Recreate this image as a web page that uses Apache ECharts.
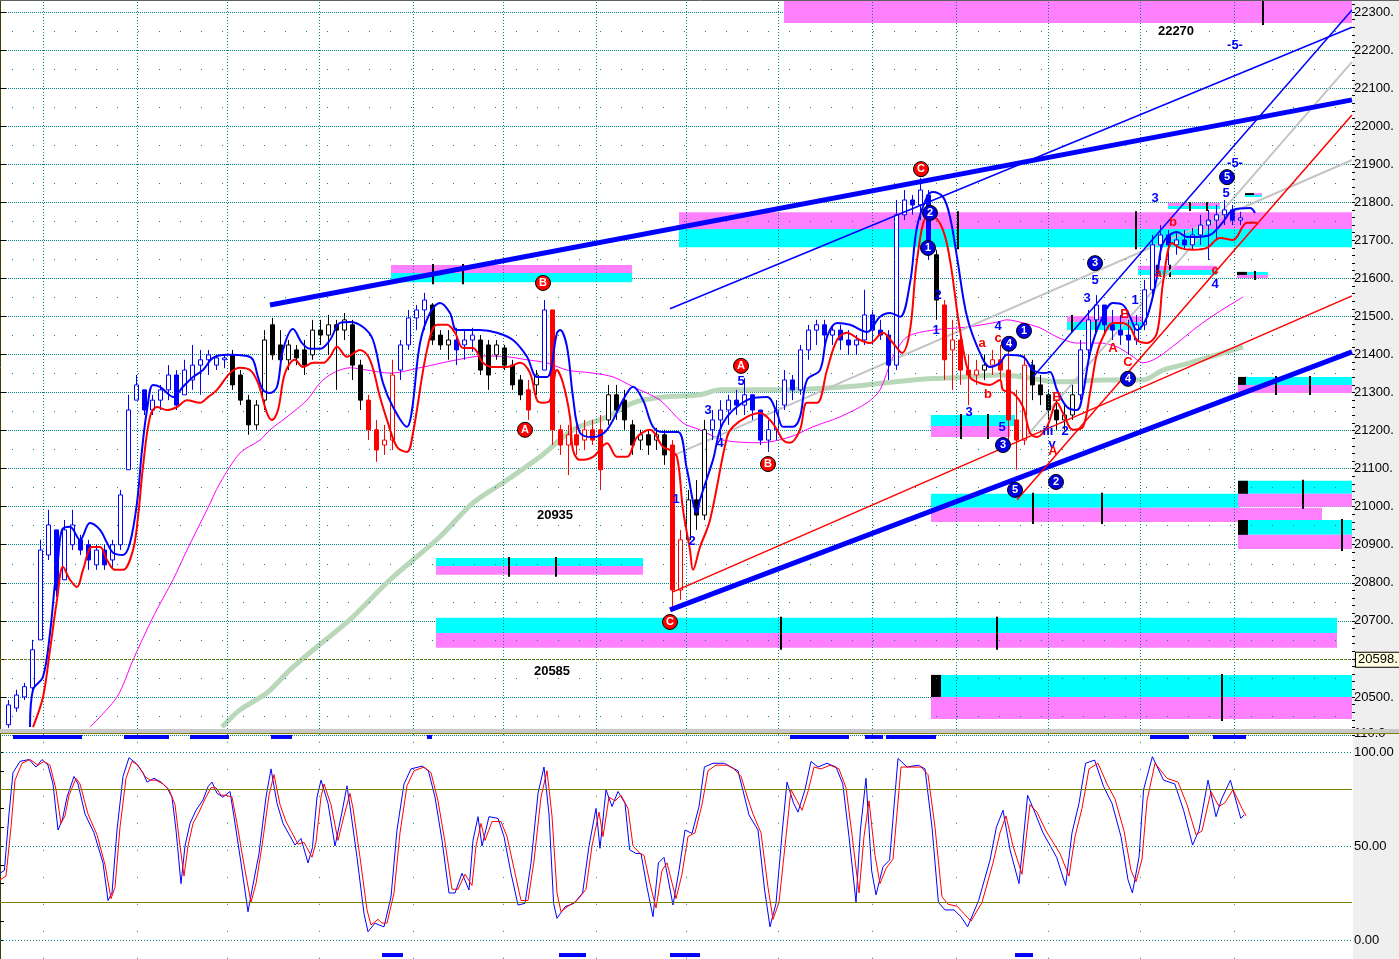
<!DOCTYPE html>
<html><head><meta charset="utf-8">
<script src="https://cdn.jsdelivr.net/npm/echarts@6.0.0/dist/echarts.min.js"></script>
<style>html,body{margin:0;padding:0;background:#fff;overflow:hidden}#c{width:1399px;height:959px}</style>
</head><body><div id="c"></div><script>
// ---------- DATA ----------
// price bars: [bar, open, close, low, high]
const ohlc = [
[2,20427,20479,20419,20492],[4,20471,20505,20461,20519],[6,20500,20527,20492,20537],[8,20524,20624,20519,20650],
[10,20650,20886,20650,20913],[12,20873,20952,20860,20992],[14,20939,20781,20763,20939],[16,20808,20939,20808,20965],
[18,20900,20952,20886,20992],[20,20913,20886,20873,20926],[22,20900,20860,20834,20913],[24,20847,20886,20834,20900],
[26,20886,20847,20834,20900],[28,20860,20900,20839,20913],[30,20900,21031,20886,21044],[32,21097,21254,21097,21294],
[34,21280,21320,21280,21346],[36,21307,21254,21241,21307],[38,21254,21280,21241,21294],[40,21280,21307,21254,21320],
[42,21307,21346,21280,21372],[44,21346,21267,21254,21359],[46,21294,21359,21294,21386],[48,21333,21372,21307,21425],
[50,21372,21386,21294,21412],[52,21386,21399,21346,21412],[54,21372,21391,21359,21399],[56,21386,21391,21364,21399],
[58,21399,21320,21307,21412],[60,21346,21280,21267,21359],[62,21280,21215,21189,21294],[64,21215,21267,21202,21280],
[66,21280,21438,21254,21464],[68,21478,21399,21386,21496],[70,21425,21386,21359,21464],[72,21386,21425,21359,21438],
[74,21412,21391,21372,21425],[76,21412,21372,21346,21438],[78,21399,21464,21386,21491],[80,21464,21451,21425,21491],
[82,21451,21478,21399,21504],[84,21478,21464,21307,21491],[86,21464,21491,21438,21509],[88,21478,21372,21333,21491],
[90,21372,21280,21254,21386],[92,21280,21202,21175,21294],[94,21202,21149,21118,21228],[96,21162,21175,21136,21215],
[98,21175,21346,21149,21386],[100,21359,21425,21333,21438],[102,21425,21496,21412,21517],[104,21496,21517,21464,21530],
[106,21517,21543,21464,21562],[108,21530,21438,21425,21535],[110,21451,21425,21412,21464],[112,21425,21438,21386,21464],
[114,21438,21412,21372,21470],[116,21425,21438,21386,21464],[118,21438,21451,21407,21470],[120,21438,21359,21346,21451],
[122,21425,21346,21307,21438],[124,21399,21425,21386,21438],[126,21417,21372,21359,21425],[128,21372,21320,21307,21386],
[130,21333,21294,21280,21346],[132,21307,21254,21228,21333],[134,21320,21346,21294,21359],[136,21359,21517,21359,21543],
[138,21517,21202,21162,21517],[140,21202,21162,21136,21215],[142,21162,21189,21083,21215],[144,21189,21162,21136,21215],
[146,21175,21202,21149,21228],[148,21202,21175,21162,21228],[150,21202,21097,21044,21241],[152,21228,21294,21215,21320],
[154,21294,21254,21228,21320],[156,21280,21228,21202,21307],[158,21215,21162,21136,21228],[160,21175,21189,21149,21202],
[162,21189,21162,21136,21202],[164,21175,21189,21149,21207],[166,21189,21136,21110,21202],[168,21162,20781,20729,21175],
[170,20781,20913,20755,20939],[172,20913,21018,20900,21044],[174,21018,20978,20939,21070],[176,20978,21202,20965,21228],
[178,21202,21228,21175,21254],[180,21228,21254,21175,21280],[182,21254,21280,21215,21294],[184,21280,21267,21241,21307],
[186,21267,21294,21241,21338],[188,21294,21254,21228,21294],[190,21254,21175,21162,21254],[192,21175,21202,21144,21228],
[194,21202,21254,21175,21280],[196,21267,21333,21254,21359],[198,21333,21307,21280,21346],[200,21307,21412,21294,21425],
[202,21412,21464,21386,21478],[204,21464,21478,21425,21491],[206,21478,21451,21425,21491],[208,21451,21464,21425,21478],
[210,21464,21438,21412,21478],[212,21438,21425,21399,21464],[214,21425,21438,21399,21451],[216,21438,21504,21425,21570],
[218,21504,21464,21425,21517],[220,21464,21451,21438,21491],[222,21451,21372,21333,21464],[224,21372,21767,21359,21806],
[226,21767,21806,21753,21832],[228,21806,21793,21767,21819],[230,21793,21832,21753,21864],[232,21819,21675,21648,21832],
[234,21662,21543,21491,21675],[236,21530,21386,21333,21543],[238,21412,21438,21307,21491],[240,21438,21359,21320,21464],
[242,21359,21346,21267,21399],[244,21346,21359,21320,21386],[246,21359,21372,21333,21399],[248,21372,21386,21346,21412],
[250,21386,21359,21333,21425],[252,21359,21228,21175,21412],[254,21228,21175,21097,21307],[256,21175,21372,21162,21399],
[258,21372,21320,21280,21386],[260,21320,21294,21267,21346],[262,21294,21254,21228,21307],[264,21254,21228,21202,21280],
[266,21228,21241,21202,21267],[268,21241,21294,21228,21320],[270,21294,21412,21280,21438],[272,21412,21491,21386,21517],
[274,21491,21530,21464,21556],[276,21530,21478,21451,21530],[278,21478,21464,21438,21517],[280,21464,21451,21425,21504],
[282,21451,21438,21399,21491],[284,21438,21478,21425,21504],[286,21478,21570,21464,21596],[288,21570,21688,21556,21714],
[290,21688,21714,21648,21740],[292,21714,21688,21635,21727],[294,21688,21701,21662,21722],[296,21701,21688,21675,21727],
[298,21688,21714,21675,21732],[300,21714,21740,21688,21767],[302,21740,21753,21648,21780],[304,21753,21767,21701,21793],
[306,21767,21780,21740,21806],[308,21780,21753,21740,21793],[310,21753,21759,21740,21775]
];
// bar state per bar: b = up-trend (blue), r = down-trend (red), k = neutral (black)
const toneRuns = ['bbbbbbbbbbbbbbbbbbbbbbbbbbbb','kkkkkkkkkkkkkkkkk','rrrr','bbbb','kkk','bbb','kkkkkk','r','k','b',
  'rrrrrrr','kkkkkkkk','rr','kkk','bbbbbbbbbbbbbbbbbbbbbbbbbbbb','k','rrrrr','k','rrrrr','kkkkkk','bbbbbbbbbbbbbbbbbbbbb'];
const tones = toneRuns.join('');

const upperBand = [[7.5,20421],[8.25,20519],[10.75,20553],[12.5,20668],[13.75,20800],[14.5,20860],[15.5,20939],[17.5,20947],[20,20913],[22.5,20957],[25,20939],[26.75,20905],[28.25,20879],[30.75,20873],[32.5,20905],[34.25,21010],[35.5,21149],[36.75,21254],[38.25,21320],[40,21315],[41.75,21299],[43.25,21288],[45.75,21315],[48.25,21341],[50.75,21359],[53.25,21391],[56.75,21399],[61.75,21396],[63.25,21386],[64.5,21341],[65.75,21307],[67.5,21299],[69.25,21315],[70.75,21412],[73.25,21467],[75.5,21430],[77.5,21415],[80,21415],[82.5,21438],[85,21483],[87.5,21485],[90.75,21472],[93.25,21438],[95.75,21325],[98.25,21262],[101.75,21210],[103,21254],[105,21430],[107.5,21509],[110,21535],[112.5,21509],[114.25,21464],[120,21464],[124.25,21457],[128.25,21438],[131.75,21394],[134.25,21341],[136.75,21341],[139.25,21457],[140,21464],[141.75,21420],[143.25,21288],[145,21194],[148.25,21183],[151.75,21202],[155.75,21280],[158.25,21315],[160.75,21280],[163.25,21210],[165.75,21196],[169.5,21196],[171.75,21097],[174.25,20984],[175,21018],[178.25,21123],[180.75,21220],[186.75,21280],[191.75,21288],[194.25,21246],[195.75,21210],[198.25,21210],[200,21236],[201.75,21333],[205,21359],[206.75,21446],[209.25,21483],[212.5,21478],[216.75,21459],[220,21499],[222.5,21509],[225,21499],[227.5,21588],[229.25,21735],[231.75,21814],[233.25,21827],[235.75,21814],[237.5,21761],[239.25,21656],[241.75,21499],[245,21404],[247.5,21367],[250,21378],[251.75,21399],[255.75,21394],[258.25,21359],[261.25,21351],[262.5,21354],[264.25,21307],[266.75,21262],[269.25,21254],[270.75,21299],[272.5,21404],[275,21483],[278.25,21535],[280.75,21530],[282.5,21499],[284.25,21464],[286.75,21499],[289.25,21604],[290.75,21693],[294.25,21722],[296.75,21709],[299.25,21709],[302.5,21714],[305.75,21748],[308.25,21780],[312.5,21785],[313.75,21772]];
const lowerBand = [[8.25,20421],[10.75,20500],[12.5,20624],[14.25,20755],[15.75,20842],[17.5,20808],[19.25,20789],[20.75,20834],[23,20894],[25,20894],[26.75,20860],[28.75,20834],[30.75,20834],[33.25,20886],[34.5,20973],[35.75,21105],[37.5,21236],[39.25,21262],[41.75,21254],[44.25,21262],[46.75,21280],[50,21273],[52,21288],[54.25,21307],[57.5,21351],[60,21365],[62.5,21359],[64.5,21325],[66.75,21246],[68,21228],[69.5,21254],[71.25,21351],[73.75,21386],[75.75,21367],[78.25,21378],[80.75,21378],[82.5,21394],[84.25,21420],[86.75,21394],[90,21412],[92.5,21386],[95,21288],[96.75,21228],[99.25,21157],[101.75,21144],[103.25,21194],[106.75,21412],[109.25,21478],[111.75,21478],[113.75,21457],[115.75,21417],[118.25,21417],[120.75,21378],[123.25,21367],[126.75,21367],[130,21378],[132.5,21351],[134.25,21280],[135.75,21273],[137.5,21280],[139.25,21359],[140.75,21325],[142.5,21236],[143.25,21149],[145,21123],[148.25,21131],[151.75,21167],[154.25,21131],[156.75,21131],[159.25,21183],[162.5,21202],[165.75,21157],[167.5,21149],[169.25,21131],[170.75,20992],[172.5,20886],[173.25,20834],[175,20894],[177.5,20965],[181.75,21183],[183.25,21210],[186.75,21236],[190,21246],[192.5,21228],[194.25,21202],[195.75,21175],[197.5,21168],[200,21202],[201.75,21273],[204.25,21273],[206.75,21359],[209.25,21438],[211.75,21457],[215,21438],[217.5,21430],[220.75,21457],[223.25,21430],[225.5,21404],[227.5,21464],[229.25,21648],[231.75,21761],[233.25,21761],[235.75,21727],[237.5,21648],[240,21464],[242.5,21341],[245,21325],[247.5,21320],[250,21333],[250.75,21307],[253.25,21299],[255.75,21262],[257.5,21194],[259.25,21183],[261.75,21210],[264.25,21273],[265.75,21246],[268.25,21202],[270.75,21210],[272.5,21299],[274.25,21404],[275.75,21446],[278.25,21483],[280.5,21483],[282.5,21472],[284.25,21438],[286.75,21430],[289.25,21457],[290.75,21588],[293,21693],[295,21680],[298.25,21675],[301.75,21680],[305,21706],[308.25,21701],[311.75,21746],[314.25,21746]];
const maShort = [[22.5,20421],[29.25,20500],[33.25,20597],[38.25,20710],[43.25,20808],[46.75,20886],[51.75,20992],[55,21062],[60,21141],[65,21175],[67.5,21202],[71.75,21236],[76.75,21280],[80,21325],[83.25,21351],[87.5,21365],[91.75,21359],[97.5,21351],[105.75,21367],[114.25,21386],[120.75,21396],[126.75,21394],[131.75,21386],[136.75,21378],[141.75,21359],[148.25,21351],[153.25,21341],[158.25,21315],[165,21280],[170.75,21220],[175,21202],[180.75,21175],[190,21168],[197.5,21183],[203.25,21210],[210,21236],[216.75,21273],[220,21307],[223.25,21394],[226.75,21446],[233.25,21464],[241.75,21472],[249.25,21485],[251.75,21491],[255.75,21483],[260,21470],[264.25,21446],[269.25,21430],[275,21430],[279.25,21420],[283.25,21394],[285.75,21378],[289.25,21391],[294.25,21430],[299.25,21472],[304.25,21509],[308.25,21535],[310.75,21551]];
const maLong = [[55.5,20421],[60,20466],[66.75,20511],[72.5,20571],[79.25,20632],[87.5,20703],[97.5,20808],[110,20921],[118.25,21010],[126.75,21070],[135,21131],[143.25,21202],[151.75,21236],[158.25,21273],[165.75,21288],[175,21294],[180,21307],[195,21307],[211.75,21315],[228.25,21333],[236.75,21338],[250,21346],[255.75,21341],[264.25,21328],[276.75,21333],[285.75,21333],[290.75,21359],[297.5,21378],[304.25,21399],[310.75,21420]];
// trend lines: [x1, p1, x2, p2, kind]
const trendLines = [
  [67.5,21530,338,22069,'thick'],[167.5,20729,338,21407,'thick'],
  [167.5,21520,338,22260,'thin'],[258.25,21341,338,22305,'thin'],
  [167.5,21131,338,21911,'gray'],[255.75,21175,338,22169,'gray'],
  [168.25,20776,338,21554,'red'],[254.25,21018,338,22029,'red']
];
// zones: [x0, x1 upper, x1 lower, top, middle, bottom, upper colour, black box end, tick bars]
const zones = [
  [196,338,338,22345,22271,22271,'m',null,[315.75]],
  [97.75,158,158,21635,21614,21590,'m',null,[108.25,115.75]],
  [169.75,338,338,21774,21730,21682,'m',null,[239.5,284]],
  [109,160.75,160.75,20865,20844,20821,'c',null,[127.25,139]],
  [109,334.25,334.25,20708,20668,20629,'c',null,[195.25,249.25]],
  [232.75,338,338,20558,20500,20442,'c',235.25,[305.5]],
  [232.75,253.75,252.5,21241,21212,21183,'c',null,[240.25,247]],
  [232.75,310,330.5,21034,20997,20960,'c',null,[258.25,275.5]],
  [309.5,338,338,21068,21034,21000,'c',312,[325.75]],
  [309.5,338,338,20965,20926,20889,'c',312,[335.5]],
  [309.5,338,338,21341,21320,21299,'c',311.5,[319,327.5]],
  [266.75,285.5,285.5,21501,21485,21464,'m',null,[268,274]],
  [284.5,304.25,304.25,21633,21622,21609,'m',null,[289.25,292.5]],
  [292,305,305,21798,21790,21782,'m',null,[297.5,301.75]],
  [309.25,317,317,21617,21609,21601,'c',311.75,[313.75]],
  [311.25,315.5,315.5,21824,21819,21814,'m',313.5,[]]
];
// wave labels
const circleLabels = [
  [230.25,21887,'C','r'],[135.75,21588,'B','r'],[131.25,21202,'A','r'],[185.25,21370,'A','r'],[192,21112,'B','r'],[167.5,20697,'C','r'],
  [232.5,21772,'2','b'],[232,21680,'1','b'],[256,21462,'1','b'],[252.25,21428,'4','b'],[250.75,21162,'3','b'],[253.75,21044,'5','b'],
  [264,21065,'2','b'],[273.75,21640,'3','b'],[282,21336,'4','b'],[306.75,21866,'5','b']
];
const textLabels = [
  [169,21018,'1','b'],[173,20910,'2','b'],[177,21254,'3','b'],[180,21165,'4','b'],[185.25,21328,'5','b'],
  [234.5,21554,'2','b'],[234,21464,'1','b'],[242.25,21249,'3','b'],[249.5,21475,'4','b'],[250.5,21207,'5','b'],
  [258,21367,'i','b'],[262,21197,'iii','b'],[263,21163,'v','b'],[266.25,21197,'2','b'],[271.75,21548,'3','b'],
  [273.75,21595,'5','b'],[283.75,21543,'1','b'],[288.75,21811,'3','b'],[303.75,21583,'4','b'],[306.5,21824,'5','b'],
  [308.75,22213,'-5-','b'],[308.75,21903,'-5-','b'],
  [245.5,21430,'a','r'],[247,21296,'b','r'],[249.5,21443,'c','r'],[263.25,21144,'A','r'],[264.25,21288,'B','r'],
  [281.25,21504,'B','r'],[278.25,21417,'A','r'],[282,21380,'C','r'],[293.25,21748,'b','r'],[289.5,21614,'a','r'],[303.75,21622,'c','r']
];
const priceNotes = [[294,22250,'22270'],[138.75,20978,'20935'],[138,20568,'20585']];
const lastPrice = 20598;
const sessionBreaks = [10.75,34.25,56.75,79.75,103.25,125.75,149,171.5,194.5,218,239,262,285,308.5];
// stochastic oscillator
const oscFast = [[0,35.5],[1.1,37],[2.25,67],[3.25,89],[5,95],[7.25,96],[9,92],[10.5,96],[12,93],[13.25,83],[14.5,58.5],[15.6,64],[16.75,76],[18.5,87],[19.5,83],[21.25,67],[23.5,57],[25.75,41],[27,21],[28,25],[29.25,58.5],[30.75,87],[32.25,97],[34,94],[35.75,89],[36.75,84],[38.5,86],[40.25,84],[41.75,81],[43,76],[44,58.5],[45.25,30],[46.25,50],[47.5,62],[49,69],[50.75,74.5],[52,81.5],[53,84],[54.25,78],[55.75,76],[57.5,79],[58.5,65.6],[60.25,41],[62,15],[63,26.6],[64.75,46],[66.5,76],[67.75,91],[69.25,72.7],[70.75,62],[73.75,50.5],[75.25,54],[77,41],[78.1,49],[79.25,76],[80.25,85],[82,72.7],[83.75,50],[85.4,67],[86.75,82],[87.5,71],[89.25,44],[91,14],[92,4.4],[93.75,9],[94.75,8],[96,7],[97.75,23],[99.25,58.5],[101,83],[102.75,91],[105.5,92.5],[107.1,90],[108.75,76],[110.5,53],[112.25,25],[113.75,25],[115.5,35.5],[117.25,26.6],[118.25,53],[119.5,65.6],[120.5,50],[122.25,65.6],[124.5,64.7],[126,55],[127.75,35.5],[129.5,18.6],[131.25,19.5],[132.75,41],[134.5,78],[136,92],[137.25,67],[138.4,19.5],[139.25,11.5],[141.25,17.7],[143.5,19.5],[145.65,25],[147.25,50],[149,70],[150,48.8],[151.5,80],[153,71],[154.5,79],[156.25,72.7],[157.4,48],[159,46],[160.25,46],[161.75,28],[163.25,12.4],[164.6,41],[166,44],[168.25,18.6],[169.75,37],[171.25,58.5],[173,56.7],[174.75,71],[176.1,92],[178.25,94],[181.1,94],[182.75,92],[184.5,90],[186.15,76],[187.25,66.5],[189.5,58.5],[191.15,26.6],[192.5,7],[194,19.5],[195.6,58.5],[196.75,84],[198.4,72.7],[199.5,68],[201.25,80],[202.75,95],[204.5,92],[206.75,94],[209,92],[210.7,83],[212.25,55],[214,20],[215.1,58.5],[216.5,86],[217.9,37],[219,24],[220.75,39],[222.4,42.5],[224.5,96.6],[226.75,92],[229.6,93],[231.25,91],[233,60],[234.6,20],[236.25,16],[238.5,16],[240.25,12.4],[241.9,7],[244.65,21],[247.5,42.5],[249.1,60],[250.75,69],[252.5,48],[254.75,30],[256.9,77],[258.5,69],[260.75,57],[264.15,44],[266.4,29],[268,57],[269.75,72.7],[271.4,94],[273.65,95.7],[275.9,81.6],[278,72.7],[280.25,55],[282,32],[283.1,25],[284.75,44],[285.9,80],[288.1,97.5],[290.9,85],[293.7,83],[295.9,69],[298.15,50.5],[299.75,58.5],[302,85],[304,65.6],[305.4,75],[307.6,85],[310.2,64.7],[311,66.5]];
const oscSlow = [[0,32],[1.5,34],[2.75,60],[3.75,85],[5.5,94],[7.5,96],[9.5,93],[11,95],[12.5,93],[14,80],[15.25,62],[16.25,66],[17.25,77],[19,86],[20,83],[22,67],[24.25,56],[26.25,40],[27.75,22],[28.75,28],[30,60],[31.5,86],[33,95],[34.5,93],[36.25,87],[37.5,85],[39,85],[40.75,83],[42.25,80],[43.75,72],[45,50],[46,34],[47,50],[48.25,62],[49.75,68],[51.25,75],[52.75,81],[54,81],[55.25,77],[56.5,77],[58,76],[59.25,62],[61,40],[62.75,20],[64,30],[65.5,50],[67.25,77],[68.5,88],[70,72],[71.5,63],[74.5,51],[76,52],[78,44],[79,52],[80.25,76],[81,83],[82.75,72],[84.5,53],[86,66],[87.5,78],[88.25,70],[90,44],[91.75,16],[92.75,8],[94.5,11],[95.5,9],[96.75,9],[98.5,25],[100,57],[101.75,82],[103.5,90],[106,92],[107.75,89],[109.5,74],[111.25,52],[113,27],[114.5,27],[116.25,35],[118,29],[119,50],[120.25,62],[121.25,53],[123,63],[125.25,63],[126.75,55],[128.5,38],[130.25,21],[132,21],[133.5,42],[135.25,76],[136.75,90],[138,66],[139.25,25],[140.25,15],[142,18],[144.25,21],[146.5,27],[148,50],[149.75,68],[150.75,55],[152.25,76],[153.75,74],[155.25,77],[157,70],[158.25,50],[160,46],[161,45],[162.5,30],[164,17],[165.5,37],[166.75,41],[169,22],[170.5,35],[172,55],[173.75,57],[175.5,72],[177,90],[179,93],[181.75,93],[183.5,91],[185.25,87],[187,75],[188.25,67],[190.25,57],[192,28],[193.25,11],[194.75,20],[196.5,55],[197.75,80],[199.25,74],[200.5,69],[202,79],[203.5,92],[205.25,91],[207.5,93],[209.75,91],[211.5,81],[213,56],[214.75,25],[216,55],[217.25,74],[218.75,45],[220,30],[221.5,38],[223.25,43],[225.25,92],[227.5,92],[230.25,92],[232,88],[233.75,60],[235.5,23],[237,19],[239.25,18],[241,14],[242.75,10],[245.5,20],[248.25,41],[250,57],[251.5,66],[253.25,50],[255.5,35],[257.5,72],[259.25,68],[261.5,58],[265,46],[267.25,34],[268.75,55],[270.5,70],[272.25,91],[274.5,94],[276.75,83],[278.75,75],[281,58],[282.75,37],[284,31],[285.5,43],[286.75,74],[288.75,94],[291.75,86],[294.5,84],[296.75,72],[299,56],[300.5,58],[302.75,79],[304.75,71],[306.25,73],[308.25,80],[310.5,70],[311.5,66]];
const oscTopMarks = [[3.25,20.5],[31,42.25],[47.5,57.25],[67.75,73],[106.75,108],[197.5,212.25],[216.25,220.75],[221.5,234],[287.5,297.25],[303.25,311.5]];
const oscBottomMarks = [[95.5,100.75],[139.75,146.5],[167.5,175],[253.75,258.25]];
const oscLevels = [20, 80];

// ---------- CHART ----------
const FONT = 'Liberation Sans, Arial, sans-serif';
const TEAL = '#008080', BLUE = '#0000ff', RED = '#ff0000';
const CLEAR = 'rgba(0,0,0,0)';
const chart = echarts.init(document.getElementById('c'), null, {renderer: 'canvas'});

function renderCandle(params, api) {
  const r = ohlc[params.dataIndex];
  const t = tones[params.dataIndex];
  const col = t === 'b' ? BLUE : (t === 'r' ? RED : '#000000');
  const x = Math.round(api.coord([r[0], r[1]])[0]) + 0.5;
  const yO = api.coord([r[0], r[1]])[1], yC = api.coord([r[0], r[2]])[1];
  const yL = api.coord([r[0], r[3]])[1], yH = api.coord([r[0], r[4]])[1];
  const up = r[2] >= r[1];
  const top = Math.min(yO, yC), h = Math.max(1, Math.abs(yO - yC));
  return {type: 'group', children: [
    {type: 'line', shape: {x1: x, y1: yH, x2: x, y2: yL}, style: {stroke: col, lineWidth: 1}},
    {type: 'rect', shape: {x: x - 2, y: top, width: 4, height: h}, style: {fill: up ? '#ffffff' : col, stroke: col, lineWidth: 1}}
  ]};
}
function renderZone(params, api) {
  const z = zones[params.dataIndex];
  const [x0, x1u, x1l, hi, mid, lo, upC, boxEnd, ticks] = z;
  const px = v => api.coord([v, mid])[0];
  const py = v => api.coord([x0, v])[1];
  const C = '#00ffff', M = '#ff80ff';
  const ch = [];
  ch.push({type: 'rect', shape: {x: px(x0), y: py(hi), width: px(x1u) - px(x0), height: py(mid) - py(hi)}, style: {fill: upC === 'c' ? C : M}});
  if (lo !== mid) ch.push({type: 'rect', shape: {x: px(x0), y: py(mid), width: px(x1l) - px(x0), height: py(lo) - py(mid)}, style: {fill: upC === 'c' ? M : C}});
  if (boxEnd !== null) ch.push({type: 'rect', shape: {x: px(x0), y: py(hi), width: px(boxEnd) - px(x0), height: py(mid) - py(hi)}, style: {fill: '#000'}});
  ticks.forEach(t => ch.push({type: 'rect', shape: {x: Math.round(px(t)) - 1, y: py(hi) - 1, width: 2, height: py(lo) - py(hi) + 3}, style: {fill: '#000'}}));
  return {type: 'group', children: ch};
}
function renderMark(params, api) {
  const a = api.coord([api.value(0), api.value(2)]);
  const b = api.coord([api.value(1), api.value(2)]);
  return {type: 'rect', shape: {x: a[0], y: a[1] - 2, width: b[0] - a[0], height: 4}, style: {fill: BLUE}};
}
function renderText(params, api) {
  const p = api.coord([api.value(0), api.value(1)]);
  const row = params.seriesName === 'notes' ? priceNotes[params.dataIndex] : textLabels[params.dataIndex];
  const col = params.seriesName === 'notes' ? '#000' : (row[3] === 'r' ? RED : BLUE);
  return {type: 'text', x: p[0], y: p[1], style: {text: row[2], fill: col, font: 'bold 13px ' + FONT, align: 'center', verticalAlign: 'middle'}};
}

const trendStyle = {
  thick: {color: BLUE, width: 5}, thin: {color: BLUE, width: 1.5},
  gray: {color: '#c4c4c4', width: 2}, red: {color: RED, width: 1.5}
};

const dotRows = [];
for (let v = 20450; v <= 22300; v += 100) dotRows.push({yAxis: v});

const series = [];
series.push({type: 'custom', xAxisIndex: 0, yAxisIndex: 0, renderItem: renderZone, clip: true, z: 1, silent: true,
  data: zones.map(z => [z[0], z[3], z[5]]), encode: {x: 0, y: [1, 2]}});
series.push({type: 'line', xAxisIndex: 0, yAxisIndex: 0, data: maLong, showSymbol: false, smooth: 0.3, z: 2, silent: true,
  lineStyle: {color: '#b9d8b9', width: 5},
  markLine: {silent: true, symbol: ['none', 'none'], label: {show: false}, animation: false,
    data: [
      ...sessionBreaks.map(x => ({xAxis: x, lineStyle: {color: TEAL, type: [1, 2], width: 1}})),
      ...dotRows.map(d => Object.assign({lineStyle: {color: TEAL, type: [1, 20], width: 1, dashOffset: -12}}, d)),
      {yAxis: lastPrice, lineStyle: {color: '#808000', type: [2, 2], width: 1},
       label: {show: true, position: 'end', distance: 4, formatter: lastPrice + '.', color: '#000', fontFamily: FONT, fontSize: 13,
               backgroundColor: '#ffffe0', borderColor: '#000', borderWidth: 1, padding: [1, 2, 0, 2]}}
    ]}});
series.push({type: 'line', xAxisIndex: 0, yAxisIndex: 0, data: maShort, showSymbol: false, smooth: 0.3, z: 3, silent: true,
  lineStyle: {color: '#ff00ff', width: 1}});
trendLines.filter(t => t[4] === 'gray').forEach(t => series.push({type: 'line', xAxisIndex: 0, yAxisIndex: 0, z: 3, silent: true,
  data: [[t[0], t[1]], [t[2], t[3]]], showSymbol: false, lineStyle: trendStyle.gray}));
series.push({type: 'custom', xAxisIndex: 0, yAxisIndex: 0, renderItem: renderCandle, clip: true, z: 4, silent: true,
  data: ohlc.map(r => [r[0], r[4], r[3]]), encode: {x: 0, y: [1, 2]}});
series.push({type: 'line', xAxisIndex: 0, yAxisIndex: 0, data: upperBand, showSymbol: false, smooth: 0.35, z: 5, silent: true,
  lineStyle: {color: BLUE, width: 2}});
series.push({type: 'line', xAxisIndex: 0, yAxisIndex: 0, data: lowerBand, showSymbol: false, smooth: 0.35, z: 5, silent: true,
  lineStyle: {color: RED, width: 2}});
trendLines.filter(t => t[4] !== 'gray').forEach(t => series.push({type: 'line', xAxisIndex: 0, yAxisIndex: 0, z: 6, silent: true,
  data: [[t[0], t[1]], [t[2], t[3]]], showSymbol: false, lineStyle: trendStyle[t[4]]}));
['r', 'b'].forEach(k => series.push({type: 'scatter', xAxisIndex: 0, yAxisIndex: 0, z: 10, silent: true,
  data: circleLabels.filter(c => c[3] === k).map(c => [c[0], c[1], c[2]]), symbol: 'circle', symbolSize: 15,
  itemStyle: {color: k === 'r' ? RED : '#0000e0', borderColor: '#000', borderWidth: 1, opacity: 1},
  label: {show: true, position: 'inside', formatter: p => p.value[2], color: '#fff', fontWeight: 'bold', fontSize: 11, fontFamily: FONT}}));
series.push({type: 'custom', name: 'waves', xAxisIndex: 0, yAxisIndex: 0, z: 11, silent: true, renderItem: renderText,
  data: textLabels.map(c => [c[0], c[1]]), encode: {x: 0, y: 1}});
series.push({type: 'custom', name: 'notes', xAxisIndex: 0, yAxisIndex: 0, z: 11, silent: true, renderItem: renderText,
  data: priceNotes.map(c => [c[0], c[1]]), encode: {x: 0, y: 1}});

// oscillator panel
series.push({type: 'line', xAxisIndex: 1, yAxisIndex: 2, data: oscFast, showSymbol: false, z: 3, silent: true,
  lineStyle: {color: BLUE, width: 1},
  markLine: {silent: true, symbol: ['none', 'none'], label: {show: false}, animation: false,
    data: [
      ...sessionBreaks.map(x => ({xAxis: x, lineStyle: {color: TEAL, type: [1, 26], width: 1}})),
      ...[0, 50, 100].map(v => ({yAxis: v, lineStyle: {color: TEAL, type: [1, 2], width: 1}})),
      ...oscLevels.map(v => ({yAxis: v, lineStyle: {color: '#808000', type: 'solid', width: 1}}))
    ]}});
series.push({type: 'line', xAxisIndex: 1, yAxisIndex: 2, data: oscSlow, showSymbol: false, z: 4, silent: true,
  lineStyle: {color: RED, width: 1}});
series.push({type: 'custom', xAxisIndex: 1, yAxisIndex: 2, renderItem: renderMark, z: 5, silent: true,
  data: oscTopMarks.map(m => [m[0], m[1], 108]), encode: {x: [0, 1], y: 2}});
series.push({type: 'custom', xAxisIndex: 1, yAxisIndex: 2, renderItem: renderMark, z: 5, silent: true,
  data: oscBottomMarks.map(m => [m[0], m[1], -8]), encode: {x: [0, 1], y: 2}});

const option = {
  animation: false,
  backgroundColor: '#ffffff',
  grid: [
    {left: 0, top: 0, width: 1352, height: 735},
    {left: 0, top: 733.2, width: 1352, height: 225.6}
  ],
  xAxis: [
    {gridIndex: 0, type: 'value', min: 0, max: 338, show: false},
    {gridIndex: 1, type: 'value', min: 0, max: 338, show: false}
  ],
  yAxis: [
    {gridIndex: 0, type: 'value', position: 'right', min: 20400, max: 22331.5, interval: 100,
     axisLine: {show: true, lineStyle: {color: '#404000', width: 1}},
     axisTick: {show: true, length: 6, lineStyle: {color: '#000'}},
     axisLabel: {show: true, margin: 2, color: '#000', fontFamily: FONT, fontSize: 13, showMaxLabel: false, showMinLabel: false,
       formatter: v => v + '.'},
     splitLine: {show: true, lineStyle: {color: TEAL, type: [1, 1], width: 1}}},
    {gridIndex: 0, type: 'value', position: 'right', min: 20400, max: 22331.5, interval: 20,
     axisLine: {show: false}, axisTick: {show: true, length: 3, lineStyle: {color: '#000'}},
     axisLabel: {show: false}, splitLine: {show: false}},
    {gridIndex: 1, type: 'value', position: 'right', min: -10, max: 110, interval: 10,
     axisLine: {show: true, lineStyle: {color: '#404000', width: 1}},
     axisTick: {show: true, length: 4, lineStyle: {color: '#000'}},
     axisLabel: {show: true, margin: 2, color: '#000', fontFamily: FONT, fontSize: 13, showMaxLabel: true, showMinLabel: false,
       formatter: v => v === 100 ? '100.00' : v === 50 ? '50.00' : v === 0 ? '0.00' : v === 110 ? '110.0' : ''},
     splitLine: {show: false}}
  ],
  graphic: [
    {type: 'rect', shape: {x: 1353, y: 0, width: 46, height: 959}, style: {fill: '#efefef'}, z: -10, silent: true},
    {type: 'rect', shape: {x: 0, y: 729, width: 1399, height: 4}, style: {fill: '#c8c8c8'}, z: 100, silent: true},
    {type: 'line', shape: {x1: 0, y1: 733.5, x2: 1399, y2: 733.5}, style: {stroke: '#808000', lineWidth: 1}, z: 100, silent: true},
    {type: 'line', shape: {x1: 0, y1: 0.5, x2: 1399, y2: 0.5}, style: {stroke: '#606060', lineWidth: 1}, z: 100, silent: true}
  ],
  series: series
};
chart.setOption(option);
</script></body></html>
